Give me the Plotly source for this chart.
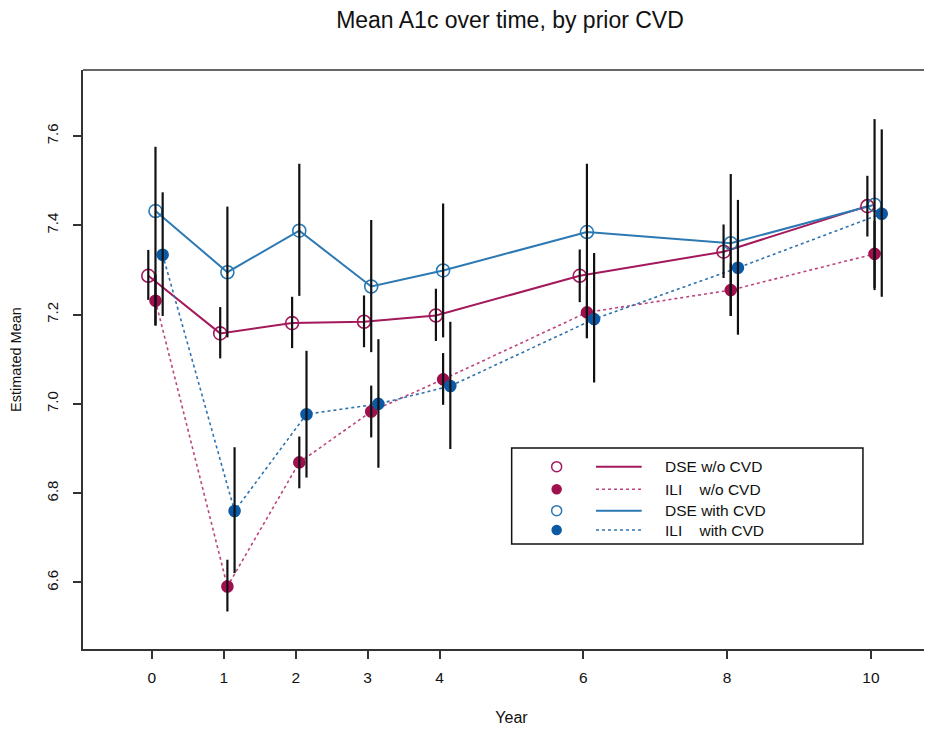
import plotly.graph_objects as go

years = [0, 1, 2, 3, 4, 6, 8, 10]
x_ticks = [0, 1, 2, 3, 4, 6, 8, 10]
y_ticks = [6.6, 6.8, 7.0, 7.2, 7.4, 7.6]

dse_wo_mean = [7.287, 7.158, 7.181, 7.184, 7.198, 7.287, 7.341, 7.443]
dse_wo_lo   = [7.233, 7.102, 7.125, 7.127, 7.141, 7.228, 7.282, 7.375]
dse_wo_hi   = [7.345, 7.217, 7.240, 7.243, 7.258, 7.346, 7.402, 7.511]

ili_wo_mean = [7.231, 6.591, 6.869, 6.983, 7.055, 7.205, 7.255, 7.336]
ili_wo_lo   = [7.175, 6.535, 6.811, 6.925, 6.998, 7.147, 7.197, 7.260]
ili_wo_hi   = [7.290, 6.651, 6.927, 7.041, 7.114, 7.263, 7.315, 7.410]

dse_w_mean = [7.432, 7.295, 7.388, 7.263, 7.299, 7.385, 7.360, 7.446]
dse_w_lo   = [7.177, 7.149, 7.242, 7.116, 7.149, 7.149, 7.197, 7.255]
dse_w_hi   = [7.576, 7.442, 7.538, 7.412, 7.449, 7.538, 7.515, 7.638]

ili_w_mean = [7.334, 6.760, 6.977, 7.000, 7.040, 7.190, 7.305, 7.426]
ili_w_lo   = [7.197, 6.621, 6.835, 6.857, 6.899, 7.048, 7.155, 7.240]
ili_w_hi   = [7.474, 6.903, 7.119, 7.145, 7.184, 7.338, 7.457, 7.615]

labels = ["DSE w/o CVD", "ILI\u00a0\u00a0\u00a0\u00a0w/o CVD", "DSE with CVD", "ILI\u00a0\u00a0\u00a0\u00a0with CVD"]

MAG = "#A3195B"
MAG_DOT = "#BC4580"
BLU = "#2D79B3"
BLU_DOT = "#2F73AD"
BLU_FILL = "#0C5AA6"
MAG_FILL = "#A0104E"

series = [
    dict(mean=dse_wo_mean, lo=dse_wo_lo, hi=dse_wo_hi, off=-0.05, color=MAG, dash="solid",
         lw=2, symbol="circle-open", mcolor=MAG, msize=13),
    dict(mean=ili_wo_mean, lo=ili_wo_lo, hi=ili_wo_hi, off=0.05, color=MAG_DOT, dash="dot",
         lw=1.6, symbol="circle", mcolor=MAG_FILL, msize=11),
    dict(mean=dse_w_mean, lo=dse_w_lo, hi=dse_w_hi, off=0.05, color=BLU, dash="solid",
         lw=2, symbol="circle-open", mcolor=BLU, msize=13),
    dict(mean=ili_w_mean, lo=ili_w_lo, hi=ili_w_hi, off=0.15, color=BLU_DOT, dash="dot",
         lw=1.6, symbol="circle", mcolor=BLU_FILL, msize=11),
]

fig = go.Figure()
FONT = "Liberation Sans, Arial, sans-serif"

for s in series:
    xs = [y + s["off"] for y in years]
    fig.add_trace(go.Scatter(
        x=xs, y=s["mean"], mode="lines",
        line=dict(color=s["color"], width=s["lw"], dash=s["dash"]),
        showlegend=False, hoverinfo="skip"))

for s in series:
    xs = [y + s["off"] for y in years]
    fig.add_trace(go.Scatter(
        x=xs, y=s["mean"], mode="markers",
        marker=dict(symbol=s["symbol"], size=s["msize"], color=s["mcolor"],
                    line=dict(width=1.6, color=s["mcolor"])),
        showlegend=False))

for s in series:
    xs = [y + s["off"] for y in years]
    fig.add_trace(go.Scatter(
        x=xs, y=s["mean"], mode="markers",
        marker=dict(size=1, color="rgba(0,0,0,0)"),
        error_y=dict(type="data", symmetric=False,
                     array=[h - m for h, m in zip(s["hi"], s["mean"])],
                     arrayminus=[m - l for m, l in zip(s["mean"], s["lo"])],
                     color="#111111", thickness=2.2, width=0),
        showlegend=False, hoverinfo="skip"))

# custom legend (R-style: symbol, line sample, text) on an overlay axis
leg_rows = [0.3149, 0.2758, 0.2389, 0.2055]
for s, ly, lab in zip(series, leg_rows, labels):
    fig.add_trace(go.Scatter(
        x=[0.5527], y=[ly], xaxis="x2", yaxis="y2", mode="markers",
        marker=dict(symbol=s["symbol"], size=10 if "open" in s["symbol"] else 9,
                    color=s["mcolor"], line=dict(width=1.5, color=s["mcolor"])),
        showlegend=False, hoverinfo="skip"))
    fig.add_trace(go.Scatter(
        x=[0.5986, 0.6519], y=[ly, ly], xaxis="x2", yaxis="y2", mode="lines",
        line=dict(color=s["color"], width=s["lw"], dash=s["dash"]),
        showlegend=False, hoverinfo="skip"))
    fig.add_annotation(x=0.6763, y=ly, xref="x2", yref="y2", text=lab,
                       showarrow=False, xanchor="left", yanchor="middle",
                       font=dict(family=FONT, size=15.5, color="#111111"))

fig.add_shape(type="rect", xref="paper", yref="paper",
              x0=0.5002, x1=0.9101, y0=0.1813, y1=0.3472,
              line=dict(color="#111111", width=1.5), fillcolor="rgba(0,0,0,0)")

# top border of plot box (right edge lies beyond the canvas)
fig.add_shape(type="line", xref="paper", yref="paper", x0=0, x1=1, y0=1, y1=1,
              line=dict(color="#333333", width=1.5))

fig.update_layout(
    width=932, height=729,
    margin=dict(l=75, r=0, t=62, b=88),
    paper_bgcolor="white", plot_bgcolor="white",
    font=dict(family=FONT, color="#111111"),
    title=dict(text="Mean A1c over time, by prior CVD", x=0.5386, xanchor="center",
               y=0.9835, yanchor="middle", font=dict(size=23, family=FONT, color="#111111")),
    xaxis=dict(range=[-0.958, 10.96], tickmode="array", tickvals=x_ticks,
               ticktext=[str(t) for t in x_ticks], showgrid=False, zeroline=False,
               showline=True, linecolor="#333333", linewidth=1.5,
               ticks="outside", ticklen=8, tickwidth=1.5, tickcolor="#333333",
               ticklabelstandoff=6,
               tickfont=dict(size=15.5), title=dict(text="Year", font=dict(size=16), standoff=26)),
    yaxis=dict(range=[6.451, 7.748], tickmode="array", tickvals=y_ticks,
               ticktext=[f"{t:.1f}" for t in y_ticks], showgrid=False, zeroline=False,
               showline=True, linecolor="#333333", linewidth=1.5,
               ticks="outside", ticklen=8, tickwidth=1.5, tickcolor="#333333",
               tickangle=-90, tickfont=dict(size=15), ticklabelstandoff=9,
               title=dict(text="Estimated Mean", font=dict(size=14.5), standoff=22)),
    xaxis2=dict(range=[0, 1], overlaying="x", visible=False, fixedrange=True),
    yaxis2=dict(range=[0, 1], overlaying="y", visible=False, fixedrange=True),
)

fig.write_html("out.html")
